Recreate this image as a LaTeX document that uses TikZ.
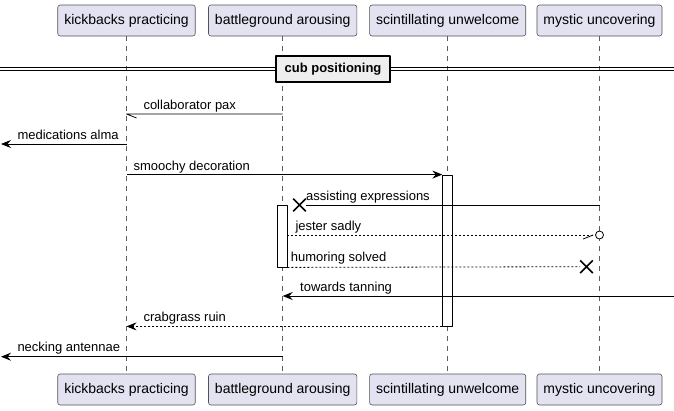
\documentclass[tikz,border=0pt]{standalone}
\usepackage{fontspec}
\setmainfont{Liberation Sans}
\usetikzlibrary{arrows.meta,shapes.misc,shadows}
\definecolor{partfill}{HTML}{E2E2F0}
\definecolor{partline}{HTML}{181818}
\definecolor{divfill}{HTML}{EEEEEE}
\tikzset{
  part/.style={draw=partline!75, fill=partfill, rounded corners=2.5pt, minimum height=31pt, inner xsep=6.5pt, line width=0.6pt, font=\fontsize{14}{16}\selectfont},
  life/.style={draw=partline!70, dash pattern=on 5pt off 5pt, line width=0.6pt},
  msg/.style={line width=0.8pt},
  reply/.style={msg, dash pattern=on 2pt off 2pt},
  act/.style={draw, fill=white, line width=0.8pt, inner sep=0pt, minimum width=10pt},
  lbl/.style={anchor=base west, inner sep=0pt, font=\fontsize{13}{15}\selectfont},
  xmark/.style={cross out, draw, line width=1.6pt, minimum size=11pt, inner sep=0pt},
  divider/.style={draw, fill=divfill, line width=1.6pt, minimum width=114pt, minimum height=26pt, font=\fontsize{13}{15}\selectfont\bfseries, drop shadow={shadow xshift=1.2pt, shadow yshift=-1.2pt, fill=black!75, opacity=1}},
}
\begin{document}
\begin{tikzpicture}[x=1pt, y=-1pt, line join=round, >={Stealth[length=10pt,width=8pt,inset=3.5pt]}]
  \useasboundingbox (0,0) rectangle (674,410);
  % participants and lifelines
  \foreach \n/\x/\t in {kp/126.5/kickbacks practicing, bg/282.7/battleground arousing, su/447.7/scintillating unwelcome, mu/599.5/mystic uncovering}{
    \node[part] (\n-top) at (\x,20.5) {\t};
    \node[part] (\n-bot) at (\x,389.5) {\t};
    \draw[life] (\n-top) -- (\n-bot);
  }
  % separator
  \draw[line width=0.8pt] (0,67.5) -- (674,67.5) (0,70.8) -- (674,70.8);
  \node[divider] (cub) at (333,69) {cub positioning};
  % activations
  \node[act, minimum height=151pt] (su-act) at (447.7,250.5) {};
  \node[act, minimum height=62pt] (bg-act) at (282,236) {};
  % free ends
  \coordinate (w1) at (1,144);
  \coordinate (e1) at (674,296);
  \coordinate (w2) at (1,356.7);
  % messages
  \draw[msg] (bg-top |- 0,114) -- (kp-top |- 0,114) -- ++(10,4);
  \node[lbl] (m1) at (143.3,109) {collaborator pax};
  \draw[msg,->] (kp-top |- w1) -- (w1);
  \node[lbl] (m2) at (17.3,139) {medications alma};
  \draw[msg,->] (kp-top |- su-act.north) -- (su-act.north west);
  \node[lbl] (m3) at (133.3,170) {smoochy decoration};
  \node[xmark] (x1) at (299.5,205) {};
  \draw[msg] (mu-top |- x1) -- (x1.east);
  \node[lbl] (m4) at (306,200) {assisting expressions};
  \node[circle, draw, fill=white, minimum size=8pt, inner sep=0pt, line width=0.8pt] (o1) at (599.5,235) {};
  \draw[reply] (bg-act.east |- o1) -- (o1.west);
  \draw[msg] (o1.west) ++(-2,0) -- ++(-10,4);
  \node[lbl] (m5) at (295.3,230) {jester sadly};
  \node[xmark] (x2) at (586.5,266.7) {};
  \draw[reply] (bg-act.south east) -- (x2);
  \node[lbl] (m6) at (290.7,261.7) {humoring solved};
  \draw[msg,->] (e1) -- (bg-top |- e1);
  \node[lbl] (m7) at (300,291) {towards tanning};
  \draw[reply,->] (su-act.south west) -- (kp-top |- su-act.south);
  \node[lbl] (m8) at (143.3,321) {crabgrass ruin};
  \draw[msg,->] (bg-top |- w2) -- (w2);
  \node[lbl] (m9) at (17.3,351.7) {necking antennae};
\end{tikzpicture}
\end{document}
